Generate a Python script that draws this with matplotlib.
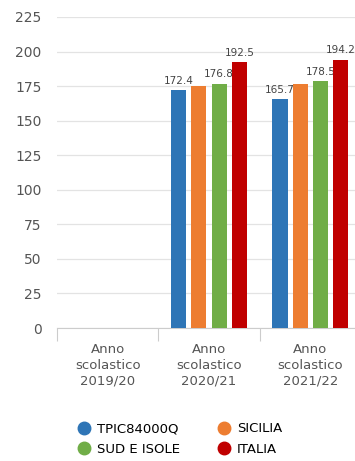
import matplotlib.pyplot as plt
import numpy as np

# dati
anni = ['Anno\nscolastico\n2019/20', 'Anno\nscolastico\n2020/21', 'Anno\nscolastico\n2021/22']
serie = ['TPIC84000Q', 'SICILIA', 'SUD E ISOLE', 'ITALIA']
tpic = [np.nan, 172.4, 165.7]
sicilia = [np.nan, 175.3, 176.5]
sud_isole = [np.nan, 176.8, 178.5]
italia = [np.nan, 192.5, 194.2]
colori = ['#2e75b6', '#ed7d31', '#70ad47', '#c00000']
yticks = [0, 25, 50, 75, 100, 125, 150, 175, 200, 225]

W, H = 355, 461
fig = plt.figure(figsize=(W / 100, H / 100), dpi=100)
ax = fig.add_axes([57 / W, 133 / H, (361 - 57) / W, (328 - 17) / H])

x = np.arange(len(anni))
larg = 0.15
offs = [-0.3, -0.1, 0.1, 0.3]
valori = [tpic, sicilia, sud_isole, italia]

for i, (vals, col) in enumerate(zip(valori, colori)):
    ax.bar(x + offs[i], vals, width=larg, color=col, zorder=3, label=serie[i])
    # le etichette della serie SICILIA sono nascoste nell'originale (sovrapposte)
    if i == 1:
        continue
    for xi, v in zip(x, vals):
        if not np.isnan(v):
            ax.text(xi + offs[i], v + 3, f'{v:.1f}', ha='center', va='bottom',
                    fontsize=7.5, color='#444444', zorder=2)

ax.set_xlim(-0.5, 2.5)
ax.set_ylim(0, 225)
ax.set_yticks(yticks)
ax.yaxis.grid(True, color='#e3e3e3', linewidth=0.9, zorder=0)
ax.tick_params(axis='y', length=0, labelsize=10, labelcolor='#555555', pad=11)

ax.set_xticks([-0.5, 0.5, 1.5, 2.5])
ax.set_xticklabels([])
ax.set_xticks(x, minor=True)
ax.set_xticklabels(anni, minor=True, fontsize=9.5, color='#555555', linespacing=1.25)
ax.tick_params(axis='x', which='major', length=9, color='#cccccc', width=0.8)
ax.tick_params(axis='x', which='minor', length=0, pad=11)

for s in ['top', 'right', 'left']:
    ax.spines[s].set_visible(False)
ax.spines['bottom'].set_color('#cccccc')
ax.set_axisbelow(True)

# ordine per righe come nell'originale
ordine = [0, 2, 1, 3]
handles = [plt.Line2D([], [], marker='o', linestyle='', markersize=9, color=colori[k]) for k in ordine]
fig.legend(handles, [serie[k] for k in ordine], loc='upper left',
           bbox_to_anchor=(72 / W, 1 - 417 / H),
           ncol=2, frameon=False, fontsize=9.5, handletextpad=0.5, columnspacing=2.8,
           labelspacing=0.55, handlelength=1.0, borderaxespad=0)

fig.savefig('out.png', dpi=100)
